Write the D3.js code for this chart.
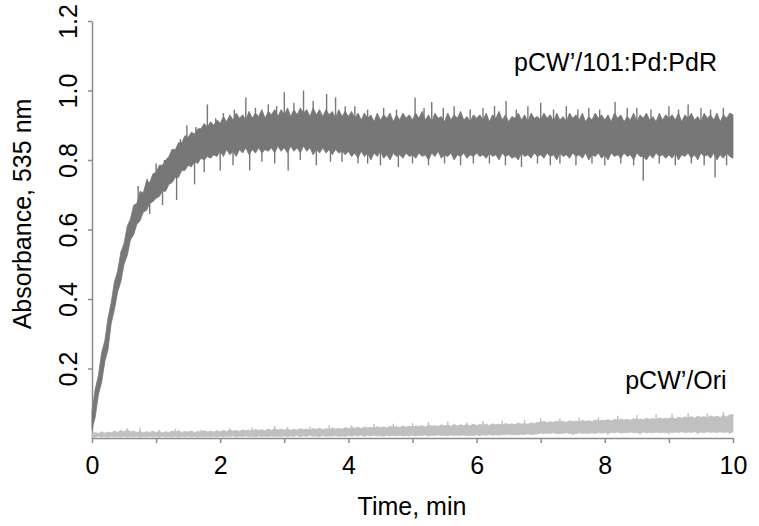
<!DOCTYPE html>
<html>
<head>
<meta charset="utf-8">
<script src="https://cdn.jsdelivr.net/npm/d3@7"></script>
<style>
  html, body { margin: 0; padding: 0; background: #fff; }
  svg { display: block; font-family: "Liberation Sans", Arial, sans-serif; }
</style>
</head>
<body>
<svg id="chart" width="759" height="526"></svg>
<script>
// Sample times (min), one row per minute
const sampleTimes = [
  0, 0.05, 0.1, 0.15, 0.2, 0.25, 0.3, 0.35, 0.4, 0.45, 0.5, 0.55, 0.6, 0.65, 0.7, 0.75, 0.8, 0.85, 0.9, 0.95,
  1, 1.05, 1.1, 1.15, 1.2, 1.25, 1.3, 1.35, 1.4, 1.45, 1.5, 1.55, 1.6, 1.65, 1.7, 1.75, 1.8, 1.85, 1.9, 1.95,
  2, 2.05, 2.1, 2.15, 2.2, 2.25, 2.3, 2.35, 2.4, 2.45, 2.5, 2.55, 2.6, 2.65, 2.7, 2.75, 2.8, 2.85, 2.9, 2.95,
  3, 3.05, 3.1, 3.15, 3.2, 3.25, 3.3, 3.35, 3.4, 3.45, 3.5, 3.55, 3.6, 3.65, 3.7, 3.75, 3.8, 3.85, 3.9, 3.95,
  4, 4.05, 4.1, 4.15, 4.2, 4.25, 4.3, 4.35, 4.4, 4.45, 4.5, 4.55, 4.6, 4.65, 4.7, 4.75, 4.8, 4.85, 4.9, 4.95,
  5, 5.05, 5.1, 5.15, 5.2, 5.25, 5.3, 5.35, 5.4, 5.45, 5.5, 5.55, 5.6, 5.65, 5.7, 5.75, 5.8, 5.85, 5.9, 5.95,
  6, 6.05, 6.1, 6.15, 6.2, 6.25, 6.3, 6.35, 6.4, 6.45, 6.5, 6.55, 6.6, 6.65, 6.7, 6.75, 6.8, 6.85, 6.9, 6.95,
  7, 7.05, 7.1, 7.15, 7.2, 7.25, 7.3, 7.35, 7.4, 7.45, 7.5, 7.55, 7.6, 7.65, 7.7, 7.75, 7.8, 7.85, 7.9, 7.95,
  8, 8.05, 8.1, 8.15, 8.2, 8.25, 8.3, 8.35, 8.4, 8.45, 8.5, 8.55, 8.6, 8.65, 8.7, 8.75, 8.8, 8.85, 8.9, 8.95,
  9, 9.05, 9.1, 9.15, 9.2, 9.25, 9.3, 9.35, 9.4, 9.45, 9.5, 9.55, 9.6, 9.65, 9.7, 9.75, 9.8, 9.85, 9.9, 9.95,
  10
];

// pCW'/101:Pd:PdR - upper / lower edge of the noisy trace
const pdrHigh = [
  0.075, 0.14, 0.18, 0.245, 0.28, 0.345, 0.39, 0.45, 0.48, 0.535, 0.56, 0.61, 0.63, 0.67, 0.675, 0.71, 0.705, 0.74, 0.735, 0.76,
  0.765, 0.785, 0.785, 0.80, 0.81, 0.83, 0.83, 0.85, 0.85, 0.87, 0.865, 0.88, 0.875, 0.89, 0.89, 0.905, 0.895, 0.91, 0.90, 0.915,
  0.905, 0.925, 0.91, 0.93, 0.915, 0.935, 0.92, 0.93, 0.915, 0.94, 0.92, 0.935, 0.925, 0.945, 0.92, 0.94, 0.93, 0.945, 0.925, 0.945,
  0.93, 0.95, 0.925, 0.945, 0.93, 0.95, 0.935, 0.945, 0.925, 0.95, 0.93, 0.945, 0.925, 0.945, 0.93, 0.94, 0.92, 0.945, 0.925, 0.94,
  0.925, 0.94, 0.92, 0.935, 0.915, 0.935, 0.92, 0.93, 0.91, 0.935, 0.915, 0.93, 0.92, 0.935, 0.91, 0.93, 0.915, 0.935, 0.92, 0.93,
  0.915, 0.935, 0.92, 0.94, 0.915, 0.93, 0.91, 0.935, 0.92, 0.925, 0.91, 0.935, 0.915, 0.93, 0.92, 0.94, 0.915, 0.925, 0.91, 0.93,
  0.92, 0.93, 0.915, 0.935, 0.91, 0.93, 0.92, 0.94, 0.915, 0.93, 0.91, 0.925, 0.92, 0.935, 0.915, 0.93, 0.91, 0.935, 0.92, 0.925,
  0.915, 0.935, 0.92, 0.93, 0.91, 0.935, 0.915, 0.925, 0.91, 0.935, 0.92, 0.93, 0.915, 0.935, 0.91, 0.925, 0.915, 0.935, 0.92, 0.93,
  0.915, 0.93, 0.91, 0.935, 0.92, 0.93, 0.91, 0.925, 0.915, 0.935, 0.91, 0.93, 0.92, 0.935, 0.915, 0.925, 0.91, 0.935, 0.915, 0.93,
  0.92, 0.93, 0.915, 0.935, 0.91, 0.93, 0.92, 0.935, 0.915, 0.925, 0.91, 0.935, 0.92, 0.93, 0.915, 0.935, 0.91, 0.93, 0.92, 0.935,
  0.93
];
const pdrLow = [
  0.025, 0.06, 0.125, 0.16, 0.22, 0.255, 0.33, 0.37, 0.42, 0.45, 0.50, 0.525, 0.57, 0.585, 0.615, 0.625, 0.65, 0.655, 0.675, 0.68,
  0.69, 0.695, 0.71, 0.71, 0.73, 0.735, 0.75, 0.75, 0.77, 0.77, 0.785, 0.78, 0.795, 0.79, 0.805, 0.80, 0.81, 0.805, 0.815, 0.81,
  0.825, 0.81, 0.83, 0.815, 0.825, 0.81, 0.83, 0.82, 0.835, 0.815, 0.83, 0.82, 0.835, 0.82, 0.83, 0.825, 0.835, 0.82, 0.84, 0.825,
  0.835, 0.82, 0.84, 0.825, 0.835, 0.82, 0.84, 0.825, 0.835, 0.815, 0.83, 0.82, 0.835, 0.82, 0.83, 0.815, 0.83, 0.82, 0.825, 0.815,
  0.825, 0.81, 0.82, 0.805, 0.825, 0.81, 0.82, 0.80, 0.82, 0.81, 0.825, 0.805, 0.815, 0.80, 0.82, 0.81, 0.815, 0.805, 0.82, 0.81,
  0.815, 0.805, 0.82, 0.81, 0.815, 0.80, 0.82, 0.81, 0.825, 0.805, 0.815, 0.81, 0.82, 0.80, 0.815, 0.81, 0.82, 0.805, 0.815, 0.81,
  0.82, 0.81, 0.815, 0.805, 0.82, 0.81, 0.815, 0.80, 0.82, 0.81, 0.815, 0.805, 0.81, 0.80, 0.82, 0.81, 0.815, 0.805, 0.82, 0.81,
  0.815, 0.805, 0.82, 0.81, 0.815, 0.80, 0.82, 0.81, 0.815, 0.805, 0.82, 0.81, 0.815, 0.805, 0.82, 0.80, 0.815, 0.81, 0.82, 0.805,
  0.815, 0.80, 0.82, 0.81, 0.815, 0.805, 0.82, 0.81, 0.815, 0.80, 0.82, 0.81, 0.81, 0.80, 0.815, 0.805, 0.82, 0.81, 0.815, 0.805,
  0.815, 0.805, 0.82, 0.80, 0.815, 0.81, 0.82, 0.805, 0.815, 0.80, 0.82, 0.81, 0.815, 0.805, 0.82, 0.80, 0.815, 0.805, 0.82, 0.81,
  0.805
];
// single readings that stick out of the band
const pdrSpikeTimes = [
  0.72, 0.86, 1.0, 1.13, 1.25, 1.38, 1.48, 1.62, 1.8, 1.93, 2.05, 2.22, 2.4, 2.55, 2.75, 2.88,
  3.0, 3.15, 3.3, 3.45, 3.66, 3.8, 3.95, 4.1, 4.3, 4.55, 4.75, 5.04, 5.18, 5.3, 5.48, 5.65,
  5.9, 6.1, 6.28, 6.46, 6.62, 6.8, 7.0, 7.2, 7.4, 7.58, 7.75, 7.92, 8.16, 8.35, 8.5, 8.72,
  9.0, 9.15, 9.3, 9.5, 9.65, 9.85,
  0.9, 1.1, 1.32, 1.6, 1.75, 2.0, 2.2, 2.46, 2.65, 2.85, 3.06, 3.25, 3.5, 3.72, 3.9, 4.15,
  4.3, 4.5, 4.78, 5.0, 5.25, 5.5, 5.75, 5.95, 6.2, 6.45, 6.7, 6.95, 7.15, 7.3, 7.55, 7.8,
  8.0, 8.25, 8.45, 8.6, 8.85, 9.1, 9.35, 9.55, 9.72, 9.9
];
const pdrSpikeValues = [
  0.725, 0.745, 0.79, 0.80, 0.83, 0.86, 0.90, 0.895, 0.96, 0.92, 0.935, 0.945, 0.98, 0.95, 0.96, 0.955,
  0.995, 0.965, 1.0, 0.97, 0.99, 0.98, 0.955, 0.955, 0.945, 0.95, 0.945, 0.98, 0.95, 0.967, 0.95, 0.955,
  0.945, 0.95, 0.955, 0.97, 0.945, 0.955, 0.965, 0.945, 0.955, 0.945, 0.95, 0.945, 0.967, 0.95, 0.95, 0.945,
  0.955, 0.945, 0.96, 0.95, 0.945, 0.95,
  0.645, 0.67, 0.685, 0.73, 0.765, 0.77, 0.785, 0.77, 0.795, 0.79, 0.77, 0.80, 0.785, 0.795, 0.795, 0.79,
  0.79, 0.785, 0.78, 0.79, 0.785, 0.79, 0.785, 0.79, 0.79, 0.785, 0.78, 0.79, 0.785, 0.79, 0.785, 0.79,
  0.785, 0.79, 0.785, 0.74, 0.79, 0.785, 0.79, 0.785, 0.75, 0.785
];

// pCW'/Ori - upper / lower edge
const oriHigh = [
  0.012, 0.016, 0.013, 0.018, 0.014, 0.017, 0.015, 0.020, 0.016, 0.022, 0.017, 0.024, 0.018, 0.020, 0.016, 0.019, 0.015, 0.018, 0.016, 0.020,
  0.016, 0.019, 0.015, 0.018, 0.016, 0.020, 0.017, 0.021, 0.016, 0.019, 0.017, 0.020, 0.016, 0.019, 0.017, 0.021, 0.018, 0.020, 0.017, 0.021,
  0.018, 0.022, 0.019, 0.023, 0.020, 0.022, 0.019, 0.024, 0.021, 0.023, 0.020, 0.025, 0.022, 0.024, 0.021, 0.026, 0.022, 0.027, 0.023, 0.026,
  0.023, 0.026, 0.022, 0.025, 0.023, 0.027, 0.024, 0.026, 0.023, 0.027, 0.025, 0.028, 0.024, 0.027, 0.025, 0.029, 0.026, 0.028, 0.025, 0.030,
  0.027, 0.030, 0.028, 0.031, 0.027, 0.032, 0.029, 0.031, 0.028, 0.033, 0.030, 0.032, 0.029, 0.034, 0.031, 0.033, 0.030, 0.035, 0.031, 0.034,
  0.032, 0.035, 0.033, 0.036, 0.032, 0.037, 0.034, 0.036, 0.033, 0.038, 0.035, 0.037, 0.034, 0.039, 0.035, 0.038, 0.036, 0.039, 0.035, 0.040,
  0.036, 0.039, 0.037, 0.040, 0.036, 0.041, 0.038, 0.040, 0.037, 0.042, 0.039, 0.041, 0.038, 0.043, 0.040, 0.042, 0.039, 0.044, 0.041, 0.045,
  0.045, 0.048, 0.044, 0.047, 0.045, 0.049, 0.046, 0.048, 0.045, 0.050, 0.047, 0.049, 0.046, 0.051, 0.048, 0.050, 0.047, 0.052, 0.049, 0.051,
  0.050, 0.053, 0.049, 0.054, 0.051, 0.055, 0.052, 0.054, 0.051, 0.056, 0.053, 0.055, 0.052, 0.057, 0.054, 0.056, 0.053, 0.058, 0.055, 0.057,
  0.056, 0.059, 0.055, 0.060, 0.057, 0.061, 0.058, 0.062, 0.057, 0.063, 0.059, 0.062, 0.058, 0.064, 0.060, 0.063, 0.059, 0.065, 0.061, 0.066,
  0.068
];
const oriLow = [
  0.004, 0.002, 0.005, 0.003, 0.004, 0.002, 0.005, 0.003, 0.004, 0.003, 0.005, 0.002, 0.004, 0.003, 0.005, 0.002, 0.004, 0.003, 0.005, 0.003,
  0.004, 0.002, 0.005, 0.003, 0.004, 0.003, 0.005, 0.002, 0.004, 0.003, 0.005, 0.003, 0.004, 0.002, 0.005, 0.003, 0.004, 0.003, 0.005, 0.003,
  0.005, 0.003, 0.005, 0.004, 0.006, 0.003, 0.005, 0.004, 0.006, 0.004, 0.005, 0.003, 0.006, 0.004, 0.005, 0.004, 0.006, 0.004, 0.005, 0.004,
  0.006, 0.004, 0.006, 0.005, 0.007, 0.004, 0.006, 0.005, 0.007, 0.005, 0.006, 0.004, 0.007, 0.005, 0.006, 0.005, 0.007, 0.005, 0.006, 0.005,
  0.007, 0.005, 0.007, 0.006, 0.008, 0.005, 0.007, 0.006, 0.008, 0.006, 0.007, 0.005, 0.008, 0.006, 0.007, 0.006, 0.008, 0.006, 0.007, 0.006,
  0.008, 0.006, 0.008, 0.007, 0.009, 0.006, 0.008, 0.007, 0.009, 0.007, 0.008, 0.006, 0.009, 0.007, 0.008, 0.007, 0.009, 0.007, 0.008, 0.007,
  0.009, 0.007, 0.009, 0.008, 0.010, 0.008, 0.009, 0.008, 0.010, 0.009, 0.011, 0.009, 0.010, 0.009, 0.011, 0.010, 0.012, 0.010, 0.011, 0.012,
  0.014, 0.012, 0.014, 0.013, 0.015, 0.012, 0.014, 0.013, 0.015, 0.013, 0.014, 0.012, 0.015, 0.013, 0.014, 0.013, 0.015, 0.013, 0.016, 0.014,
  0.016, 0.014, 0.016, 0.015, 0.017, 0.014, 0.016, 0.015, 0.017, 0.015, 0.016, 0.014, 0.017, 0.015, 0.016, 0.015, 0.017, 0.015, 0.016, 0.015,
  0.017, 0.015, 0.017, 0.016, 0.018, 0.015, 0.017, 0.016, 0.018, 0.016, 0.017, 0.015, 0.018, 0.016, 0.017, 0.016, 0.018, 0.016, 0.017, 0.016,
  0.017
];
const oriSpikeTimes = [
  0.55, 0.75, 1.05, 1.3, 1.7, 2.15, 2.5, 2.85, 3.05, 3.4, 3.7, 4.05, 4.4, 4.7, 5.0, 5.25,
  5.55, 5.85, 6.1, 6.4, 6.75, 7.0, 7.3, 7.6, 7.9, 8.2, 8.5, 8.8, 9.05, 9.3, 9.6, 9.85,
  7.5, 8.05, 8.55, 9.0, 9.45, 9.95
];
const oriSpikeValues = [
  0.028, 0.030, 0.024, 0.026, 0.024, 0.027, 0.030, 0.035, 0.032, 0.033, 0.037, 0.036, 0.040, 0.041, 0.043, 0.046,
  0.047, 0.045, 0.049, 0.050, 0.052, 0.057, 0.056, 0.059, 0.060, 0.064, 0.066, 0.068, 0.070, 0.072, 0.071, 0.075,
  0.008, 0.009, 0.010, 0.010, 0.011, 0.012
];

const xTicks = [0, 1, 2, 3, 4, 5, 6, 7, 8, 9, 10];
const xTickLabels = ['0', '', '2', '', '4', '', '6', '', '8', '', '10'];
const yTicks = [0.2, 0.4, 0.6, 0.8, 1.0, 1.2];
const yTickLabels = ['0.2', '0.4', '0.6', '0.8', '1.0', '1.2'];
const seriesNames = ["pCW\u2019/101:Pd:PdR", "pCW\u2019/Ori"];

const margin = { top: 21, right: 26, bottom: 88, left: 92 };
const width = 759 - margin.left - margin.right;
const height = 526 - margin.top - margin.bottom;

const svg = d3.select('#chart');
const g = svg.append('g').attr('transform', `translate(${margin.left},${margin.top})`);

const x = d3.scaleLinear().domain([0, 10]).range([0, width]);
const y = d3.scaleLinear().domain([0, 1.2]).range([height, 0]);

const axisColor = '#8c8c8c';
const fontFamily = '"Liberation Sans", Arial, sans-serif';

// X axis
const xAxis = g.append('g')
  .attr('transform', `translate(0,${height})`)
  .call(d3.axisBottom(x).tickValues(xTicks).tickSize(5).tickSizeOuter(0)
    .tickFormat((d, i) => xTickLabels[i]));
xAxis.select('.domain').attr('stroke', axisColor).attr('stroke-width', 1.5);
xAxis.selectAll('.tick line').attr('stroke', axisColor).attr('stroke-width', 1.5);
xAxis.selectAll('.tick text')
  .attr('y', 18)
  .attr('dy', '0.71em')
  .attr('fill', '#000')
  .style('font-size', '25px')
  .style('font-family', fontFamily);

// Y axis
const yAxis = g.append('g')
  .call(d3.axisLeft(y).tickValues(yTicks).tickSize(4).tickSizeOuter(0)
    .tickFormat((d, i) => yTickLabels[i]));
yAxis.select('.domain').attr('stroke', axisColor).attr('stroke-width', 1.5);
yAxis.selectAll('.tick line').attr('stroke', axisColor).attr('stroke-width', 1.5);
yAxis.selectAll('.tick text')
  .attr('x', null)
  .attr('dy', null)
  .attr('transform', 'translate(-15,0) rotate(-90)')
  .attr('text-anchor', 'middle')
  .attr('fill', '#000')
  .style('font-size', '25px')
  .style('font-family', fontFamily);

// Axis titles
svg.append('text')
  .attr('x', 412)
  .attr('y', 515)
  .attr('text-anchor', 'middle')
  .style('font-size', '25px')
  .text('Time, min');

svg.append('text')
  .attr('transform', 'translate(31,214) rotate(-90)')
  .attr('text-anchor', 'middle')
  .style('font-size', '25px')
  .text('Absorbance, 535 nm');

// Draw one noisy trace: band body + single readings sticking out
function drawTrace(low, high, spikeTimes, spikeValues, color) {
  const rows = sampleTimes.map((t, i) => ({ t, lo: low[i], hi: high[i] }));
  const area = d3.area()
    .x(d => x(d.t))
    .y0(d => y(d.lo))
    .y1(d => y(d.hi));

  g.append('path')
    .datum(rows)
    .attr('d', area)
    .attr('fill', color)
    .attr('stroke', color)
    .attr('stroke-width', 0.8)
    .attr('stroke-linejoin', 'round');

  // start each spike from the nearest band edge
  const spikes = spikeTimes.map((t, i) => {
    const k = Math.round(t * 20);
    const v = spikeValues[i];
    const edge = v > (low[k] + high[k]) / 2 ? high[k] - 0.01 : low[k] + 0.01;
    return { t, v, edge };
  });

  g.append('g')
    .selectAll('line')
    .data(spikes)
    .join('line')
    .attr('x1', d => x(d.t))
    .attr('x2', d => x(d.t))
    .attr('y1', d => y(d.edge))
    .attr('y2', d => y(d.v))
    .attr('stroke', color)
    .attr('stroke-width', 1.4);
}

drawTrace(oriLow, oriHigh, oriSpikeTimes, oriSpikeValues, '#c0c0c0');
drawTrace(pdrLow, pdrHigh, pdrSpikeTimes, pdrSpikeValues, '#777777');

// Series labels
g.append('text')
  .attr('x', x(9.75))
  .attr('y', y(0.87) - 65)
  .attr('text-anchor', 'end')
  .style('font-size', '25px')
  .text(seriesNames[0]);

g.append('text')
  .attr('x', x(9.9))
  .attr('y', y(0.14))
  .attr('text-anchor', 'end')
  .style('font-size', '25px')
  .text(seriesNames[1]);
</script>
</body>
</html>
